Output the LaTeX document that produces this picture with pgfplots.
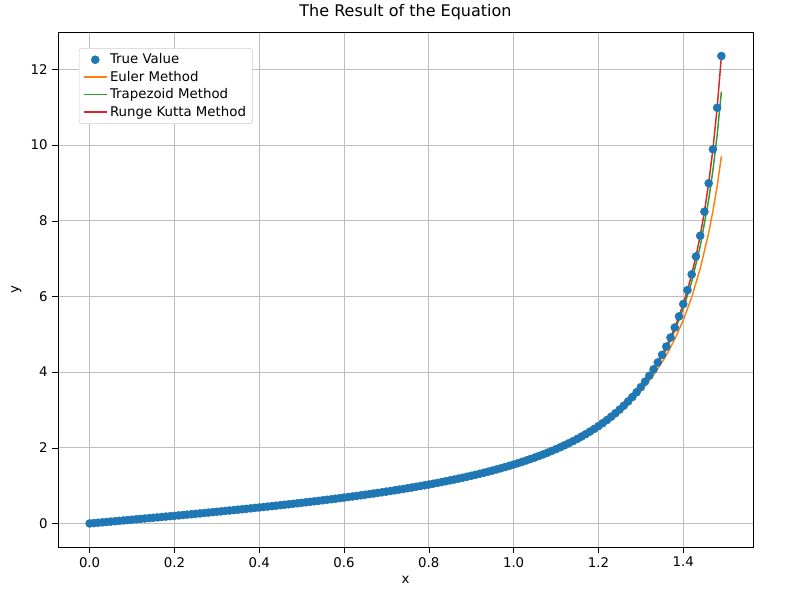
\documentclass[border=0pt]{standalone}
\usepackage{pgfplots}
\pgfplotsset{compat=1.18}
\usepackage{pgfplotstable}
\usepackage{fontspec}
\setmainfont{DejaVu Sans}
\definecolor{tblue}{HTML}{1F77B4}
\definecolor{torange}{HTML}{FF7F0E}
\definecolor{tgreen}{HTML}{2CA02C}
\definecolor{tred}{HTML}{D62728}
\pgfplotstableread{
x y
0.00 0
0.01 0.0100
0.02 0.0200
0.03 0.0300
0.04 0.0400
0.05 0.0500
0.06 0.0601
0.07 0.0701
0.08 0.0802
0.09 0.0902
0.10 0.1003
0.11 0.1104
0.12 0.1206
0.13 0.1307
0.14 0.1409
0.15 0.1511
0.16 0.1614
0.17 0.1717
0.18 0.1820
0.19 0.1923
0.20 0.2027
0.21 0.2131
0.22 0.2236
0.23 0.2341
0.24 0.2447
0.25 0.2553
0.26 0.2660
0.27 0.2768
0.28 0.2876
0.29 0.2984
0.30 0.3093
0.31 0.3203
0.32 0.3314
0.33 0.3425
0.34 0.3537
0.35 0.3650
0.36 0.3764
0.37 0.3879
0.38 0.3994
0.39 0.4111
0.40 0.4228
0.41 0.4346
0.42 0.4466
0.43 0.4586
0.44 0.4708
0.45 0.4831
0.46 0.4954
0.47 0.5080
0.48 0.5206
0.49 0.5334
0.50 0.5463
0.51 0.5594
0.52 0.5726
0.53 0.5859
0.54 0.5994
0.55 0.6131
0.56 0.6269
0.57 0.6410
0.58 0.6552
0.59 0.6696
0.60 0.6841
0.61 0.6989
0.62 0.7139
0.63 0.7291
0.64 0.7445
0.65 0.7602
0.66 0.7761
0.67 0.7923
0.68 0.8087
0.69 0.8253
0.70 0.8423
0.71 0.8595
0.72 0.8771
0.73 0.8949
0.74 0.9131
0.75 0.9316
0.76 0.9505
0.77 0.9697
0.78 0.9893
0.79 1.0092
0.80 1.0296
0.81 1.0505
0.82 1.0717
0.83 1.0934
0.84 1.1156
0.85 1.1383
0.86 1.1616
0.87 1.1853
0.88 1.2097
0.89 1.2346
0.90 1.2602
0.91 1.2864
0.92 1.3133
0.93 1.3409
0.94 1.3692
0.95 1.3984
0.96 1.4284
0.97 1.4592
0.98 1.4910
0.99 1.5237
1.00 1.5574
1.01 1.5922
1.02 1.6281
1.03 1.6652
1.04 1.7036
1.05 1.7433
1.06 1.7844
1.07 1.8270
1.08 1.8712
1.09 1.9171
1.10 1.9648
1.11 2.0143
1.12 2.0660
1.13 2.1198
1.14 2.1759
1.15 2.2345
1.16 2.2958
1.17 2.3600
1.18 2.4273
1.19 2.4979
1.20 2.5722
1.21 2.6503
1.22 2.7328
1.23 2.8198
1.24 2.9119
1.25 3.0096
1.26 3.1133
1.27 3.2236
1.28 3.3413
1.29 3.4672
1.30 3.6021
1.31 3.7471
1.32 3.9033
1.33 4.0723
1.34 4.2556
1.35 4.4552
1.36 4.6734
1.37 4.9131
1.38 5.1774
1.39 5.4707
1.40 5.7979
1.41 6.1654
1.42 6.5811
1.43 7.0555
1.44 7.6018
1.45 8.2381
1.46 8.9886
1.47 9.8874
1.48 10.9834
1.49 12.3499
}\truetab
\pgfplotstableread{
x y
0 0
0.2 0.2027
0.4 0.4228
0.6 0.6840
0.8 1.0293
1.0 1.5540
1.1 1.9550
1.2 2.5440
1.25 2.9600
1.30 3.5000
1.33 3.9200
1.36 4.4400
1.38 4.8700
1.40 5.3700
1.42 5.9800
1.44 6.7300
1.46 7.6800
1.47 8.2500
1.48 8.9100
1.49 9.7000
}\eulertab
\pgfplotstableread{
x y
0 0
0.2 0.2027
0.4 0.4228
0.6 0.6841
0.8 1.0295
1.0 1.5565
1.1 1.9630
1.2 2.5630
1.25 2.9980
1.30 3.5700
1.33 4.0300
1.36 4.6000
1.38 5.1000
1.40 5.6700
1.42 6.3900
1.44 7.3200
1.46 8.5500
1.47 9.3300
1.48 10.2600
1.49 11.4100
}\traptab
\begin{document}
\begin{tikzpicture}
\begin{axis}[
  scale only axis, width=521pt, height=385.5pt,
  font=\fontsize{10}{12}\selectfont,
  /pgf/number format/assume math mode=true,
  xmin=-0.0745, xmax=1.5645, ymin=-0.6175, ymax=12.9675,
  xtick={0,0.2,...,1.41}, ytick={0,2,...,12},
  xtick pos=bottom, ytick pos=left,
  xticklabel style={/pgf/number format/.cd,fixed,fixed zerofill,precision=1},
  grid=major, grid style={gray!50, line width=0.6pt},
  tick align=outside, tick style={black},
  xlabel={x}, ylabel={y},
  title={\fontsize{12}{14}\selectfont The Result of the Equation},
  legend pos=north west,
  legend cell align=left,
  legend style={draw=gray!40, rounded corners=2pt, font=\fontsize{10}{12}\selectfont},
  after end axis/.code={
    \path (rel axis cs:0,0) ++(-43.5pt,-36pt);
    \path (rel axis cs:1,1) ++(30.75pt,22pt);
  },
]
\addplot[only marks, mark=*, mark size=3pt, color=tblue] table {\truetab};
\addlegendentry{True Value}
\addplot[torange, line width=1.1pt] table {\eulertab};
\addlegendentry{Euler Method}
\addplot[tgreen, line width=1.1pt] table {\traptab};
\addlegendentry{Trapezoid Method}
\addplot[tred, line width=1.1pt] table {\truetab};
\addlegendentry{Runge Kutta Method}
\end{axis}
\end{tikzpicture}
\end{document}
